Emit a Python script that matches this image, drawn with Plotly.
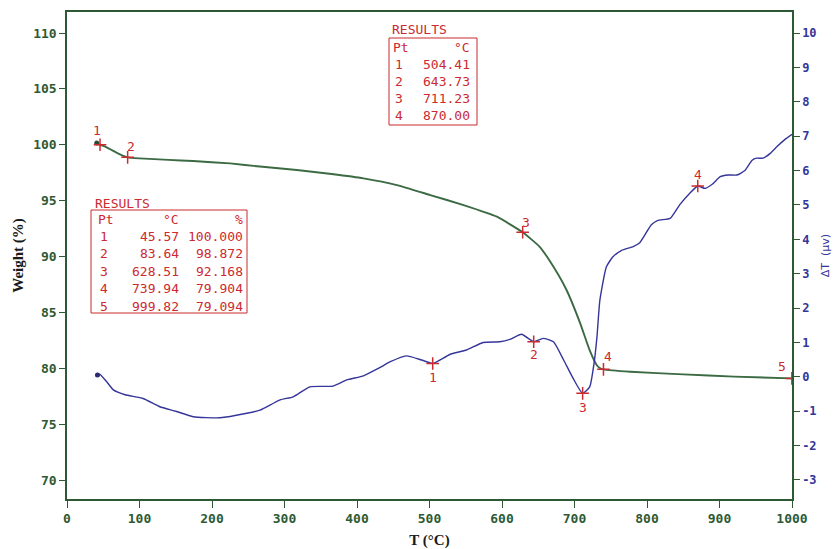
import plotly.graph_objects as go

# ---- TGA curve: temperature (°C) vs weight (%) ----
tga_t = [41, 45.57, 52, 59, 66, 73, 83.64, 100, 140, 174, 225, 266, 317, 365, 409,
         455, 501, 547, 593, 628.51, 652, 671, 689, 708, 721, 731, 736, 739.94,
         777, 850, 920, 999.82]
tga_w = [100.15, 100.0, 99.85, 99.62, 99.38, 99.15, 98.872, 98.78, 98.65, 98.54,
         98.33, 98.05, 97.74, 97.38, 96.99, 96.39, 95.5, 94.6, 93.56, 92.168,
         90.87, 89.08, 87.0, 84.0, 81.6, 80.25, 79.98, 79.904, 79.69, 79.45,
         79.25, 79.094]

# ---- DTA curve: temperature (°C) vs ΔT (µV) ----
dta_t = [42, 45, 55, 64, 80, 105, 128, 150, 174, 211, 248, 266, 294, 312, 335,
         367, 386, 409, 430, 446, 468, 489, 504.41, 528, 551, 574, 597, 611, 627,
         643.73, 657, 671, 685, 698, 711.23, 721, 727, 731, 735, 744, 753, 765,
         781, 790, 806, 815, 832, 845, 859, 870.0, 880, 890, 901, 912, 924, 935,
         945, 951, 960, 970, 979, 990, 1000]
dta_v = [0.05, 0.08, -0.15, -0.38, -0.52, -0.63, -0.87, -1.0, -1.16, -1.19, -1.06,
         -0.97, -0.67, -0.58, -0.29, -0.27, -0.09, 0.03, 0.25, 0.44, 0.61, 0.49,
         0.39, 0.65, 0.78, 1.0, 1.02, 1.09, 1.24, 1.02, 1.12, 1.02, 0.49, -0.04,
         -0.48, -0.29, 0.4, 1.17, 2.23, 3.2, 3.49, 3.68, 3.79, 3.9, 4.42, 4.55,
         4.61, 5.0, 5.34, 5.55, 5.48, 5.6, 5.82, 5.87, 5.87, 6.0, 6.3, 6.36, 6.36,
         6.5, 6.69, 6.9, 7.05]

# ---- marked result points ----
tga_pts = [1, 2, 3, 4, 5]
tga_pt_t = [45.57, 83.64, 628.51, 739.94, 999.82]
tga_pt_w = [100.000, 98.872, 92.168, 79.904, 79.094]

dta_pts = [1, 2, 3, 4]
dta_pt_t = [504.41, 643.73, 711.23, 870.00]
dta_pt_v = [0.39, 1.02, -0.48, 5.55]

# ---- axis ticks ----
x_ticks = [0, 100, 200, 300, 400, 500, 600, 700, 800, 900, 1000]
w_ticks = [70, 75, 80, 85, 90, 95, 100, 105, 110]
dt_ticks = [-3, -2, -1, 0, 1, 2, 3, 4, 5, 6, 7, 8, 9, 10]
dt_labels = ["-3", "-2", "-1", "0", "1", "2", "3", "4", "5", "6", "7", "8", "9", "10"]

AXIS_GREEN = "#2d5a34"
TGA_GREEN = "#3b6a43"
DTA_BLUE = "#35359a"
RED = "#cc2a2f"
MONO = "DejaVu Sans Mono"

W, H = 834, 549
L, R, T, B = 67, 42, 12, 50
PW, PH = W - L - R, H - T - B


def px(x):
    return (x - L) / PW


def py(y):
    return (H - B - y) / PH


fig = go.Figure()

fig.add_trace(go.Scatter(x=tga_t, y=tga_w, mode="lines", yaxis="y",
                         line=dict(color=TGA_GREEN, width=1.9, shape="spline",
                                   smoothing=0.4),
                         hoverinfo="skip"))
fig.add_trace(go.Scatter(x=dta_t, y=dta_v, mode="lines", yaxis="y2",
                         line=dict(color=DTA_BLUE, width=1.4, shape="spline",
                                   smoothing=0.5),
                         hoverinfo="skip"))

# small pen blobs at the start of each curve
fig.add_trace(go.Scatter(x=[tga_t[0]], y=[tga_w[0]], mode="markers", yaxis="y",
                         marker=dict(color="#2c4a30", size=5)))
fig.add_trace(go.Scatter(x=[dta_t[0]], y=[dta_v[0]], mode="markers", yaxis="y2",
                         marker=dict(color="#2a2a70", size=5)))

cross = dict(symbol="cross-thin", size=9, line=dict(color=RED, width=1.5))
fig.add_trace(go.Scatter(x=tga_pt_t, y=tga_pt_w, mode="markers", yaxis="y", marker=cross))
fig.add_trace(go.Scatter(x=dta_pt_t, y=dta_pt_v, mode="markers", yaxis="y2", marker=cross))

annotations = []
label_font = dict(family=MONO, size=13, color=RED)

# point numbers on the TGA curve
tga_shift = [(-3, 14), (3, 11), (3, 10), (5, 13), (-10, 12)]
for n, t, w, (dx, dy) in zip(tga_pts, tga_pt_t, tga_pt_w, tga_shift):
    annotations.append(dict(x=t, y=w, xref="x", yref="y", text=str(n), showarrow=False,
                            xshift=dx, yshift=dy, font=label_font))

# point numbers on the DTA curve
dta_shift = [(0, -14), (0, -13), (0, -14), (0, 12)]
for n, t, v, (dx, dy) in zip(dta_pts, dta_pt_t, dta_pt_v, dta_shift):
    annotations.append(dict(x=t, y=v, xref="x", yref="y2", text=str(n), showarrow=False,
                            xshift=dx, yshift=dy, font=label_font))


def cell(x, y, text, anchor):
    annotations.append(dict(x=px(x), y=py(y), xref="paper", yref="paper", text=text,
                            showarrow=False, xanchor=anchor, yanchor="middle",
                            font=label_font))


shapes = []

# DTA results table
cell(390, 30, "RESULTS", "left")
shapes.append(dict(type="rect", xref="paper", yref="paper", x0=px(389), x1=px(477),
                   y0=py(125), y1=py(38), line=dict(color=RED, width=1)))
cell(391, 47, "Pt", "left")
cell(472, 47, "°C", "right")
for i, (n, t) in enumerate(zip(dta_pts, dta_pt_t)):
    yy = 64.5 + i * 17
    cell(405, yy, str(n), "right")
    cell(472, yy, f"{t:.2f}", "right")

# TGA results table
cell(93, 203, "RESULTS", "left")
shapes.append(dict(type="rect", xref="paper", yref="paper", x0=px(91), x1=px(247),
                   y0=py(313), y1=py(210), line=dict(color=RED, width=1)))
cell(96, 219, "Pt", "left")
cell(181, 219, "°C", "right")
cell(245, 219, "%", "right")
for i, (n, t, w) in enumerate(zip(tga_pts, tga_pt_t, tga_pt_w)):
    yy = 236.5 + i * 17.4
    cell(110, yy, str(n), "right")
    cell(181, yy, f"{t:.2f}", "right")
    cell(245, yy, f"{w:.3f}", "right")

tick_font = dict(family=MONO, size=13, color=AXIS_GREEN, weight="bold")
title_font = dict(family="Liberation Serif", size=15, color="#1a1a1a", weight="bold")

fig.update_layout(
    width=W, height=H,
    margin=dict(l=L, r=R, t=T, b=B, autoexpand=False),
    paper_bgcolor="white", plot_bgcolor="white",
    showlegend=False,
    xaxis=dict(range=[0, 1000], tickvals=x_ticks, ticks="outside", ticklen=7,
               tickwidth=1.3, tickcolor=AXIS_GREEN, showline=True, linecolor=AXIS_GREEN,
               linewidth=1.5, mirror=True, showgrid=False, zeroline=False,
               tickfont=tick_font, automargin=False,
               title=dict(text="T (°C)", font=title_font, standoff=10)),
    yaxis=dict(range=[68.30, 111.88], tickvals=w_ticks, ticks="outside", ticklen=6,
               tickwidth=1.3, tickcolor=AXIS_GREEN, showline=True, linecolor=AXIS_GREEN,
               linewidth=1.5, showgrid=False, zeroline=False, tickfont=tick_font,
               automargin=False,
               title=dict(text="Weight (%)", font=title_font, standoff=6)),
    yaxis2=dict(range=[-3.553, 10.611], overlaying="y", side="right",
                tickvals=dt_ticks, ticktext=dt_labels, ticks="outside", ticklen=6,
                tickwidth=1.3, tickcolor=AXIS_GREEN, showline=True,
                linecolor=AXIS_GREEN, linewidth=1.5, showgrid=False, zeroline=False,
                tickfont=dict(family=MONO, size=12, color=DTA_BLUE, weight="bold"),
                automargin=False,
                title=dict(text="ΔT  (μv)", font=dict(family="DejaVu Sans", size=11,
                                                     color=DTA_BLUE), standoff=6)),
    annotations=annotations,
    shapes=shapes,
)

fig.write_html("out.html")
